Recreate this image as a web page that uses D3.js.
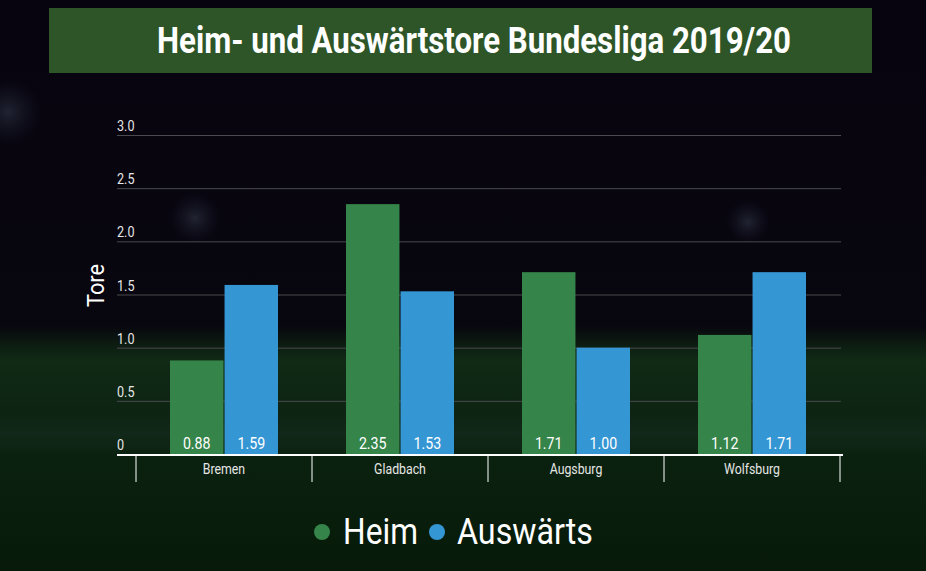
<!DOCTYPE html>
<html><head><meta charset="utf-8">
<script src="https://cdn.jsdelivr.net/npm/d3@7/dist/d3.min.js"></script>
<style>
html,body{margin:0;padding:0;background:#07040f;overflow:hidden;}
svg{display:block;font-family:Roboto,"Noto Sans",sans-serif;}
</style></head>
<body><svg id="c" width="926" height="571"></svg>
<script>
const title = "Heim- und Auswärtstore Bundesliga 2019/20";
const categories = ["Bremen","Gladbach","Augsburg","Wolfsburg"];
const seriesNames = ["Heim","Auswärts"];
const heim = [0.88, 2.35, 1.71, 1.12];
const auswaerts = [1.59, 1.53, 1.00, 1.71];
const yTicks = [0, 0.5, 1.0, 1.5, 2.0, 2.5, 3.0];
const yTickLabels = ["0","0.5","1.0","1.5","2.0","2.5","3.0"];
const yTitle = "Tore";
const colors = ["#35844a","#3596d4"];

const svg = d3.select("#c");
const W = 926, H = 571;

function condense(sel, f){
  sel.each(function(){
    const l = this.getComputedTextLength();
    d3.select(this).attr("textLength", l*f).attr("lengthAdjust","spacingAndGlyphs");
  });
}

// background
const defs = svg.append("defs");
const bg = defs.append("linearGradient").attr("id","bg").attr("x1",0).attr("y1",0).attr("x2",0).attr("y2",1);
[[0,"#07040f"],[0.57,"#08060f"],[0.6,"#0c1a10"],[0.63,"#102a16"],[0.72,"#0d2412"],[0.76,"#11281a"],[0.8,"#0b210f"],[1,"#071a09"]]
  .forEach(([o,c])=>bg.append("stop").attr("offset",o).attr("stop-color",c));
svg.append("rect").attr("width",W).attr("height",H).attr("fill","url(#bg)");
const glow = defs.append("radialGradient").attr("id","glow");
glow.append("stop").attr("offset",0).attr("stop-color","#33384a").attr("stop-opacity",0.6);
glow.append("stop").attr("offset",1).attr("stop-color","#1a1d30").attr("stop-opacity",0);
[[195,218,26],[748,222,22],[8,112,34]].forEach(([x,y,r])=>
  svg.append("circle").attr("cx",x).attr("cy",y).attr("r",r).attr("fill","url(#glow)"));

// title
svg.append("rect").attr("x",49).attr("y",8).attr("width",823).attr("height",65).attr("fill","#2d5527");
svg.append("text").attr("x",474).attr("y",53).attr("text-anchor","middle")
  .attr("fill","#ffffff").attr("font-size",36).attr("font-weight","bold").text(title)
  .attr("textLength",634).attr("lengthAdjust","spacingAndGlyphs");

// scales
const y = d3.scaleLinear().domain([0,3]).range([454,135]);
const x = d3.scaleBand().domain(categories).range([136,840]).paddingInner(0).paddingOuter(0);
const x1 = d3.scaleBand().domain(seriesNames).range([34, 142]).paddingInner(0.02);

// gridlines
const grid = svg.append("g").attr("transform","translate(117,0)")
  .call(d3.axisLeft(y).tickValues(yTicks.slice(1)).tickSize(-724).tickFormat(""));
grid.select(".domain").remove();
grid.selectAll("line").attr("stroke","#4a4a4f").attr("stroke-width",1);

// y tick labels
svg.append("g").selectAll("text").data(yTicks).join("text")
  .attr("x",117).attr("y",d=>y(d)-4).attr("fill","#e6e6e6").attr("font-size",15)
  .text((d,i)=>yTickLabels[i]).call(condense,0.84);

// y title
svg.append("text").attr("transform","translate(104,285.5) rotate(-90)").attr("text-anchor","middle")
  .attr("fill","#ffffff").attr("font-size",24).text(yTitle)
  .attr("textLength",43).attr("lengthAdjust","spacingAndGlyphs");

// bars
const data = categories.map((c,i)=>({c, vals:[heim[i],auswaerts[i]]}));
const groups = svg.append("g").selectAll("g").data(data).join("g")
  .attr("transform",d=>`translate(${x(d.c)},0)`);
groups.selectAll("rect").data(d=>d.vals.map((v,j)=>({v,s:seriesNames[j],j}))).join("rect")
  .attr("x",d=>x1(d.s)).attr("y",d=>y(d.v)).attr("width",x1.bandwidth())
  .attr("height",d=>y(0)-y(d.v)).attr("fill",d=>colors[d.j]);
groups.selectAll("text").data(d=>d.vals.map((v,j)=>({v,s:seriesNames[j],j}))).join("text")
  .attr("x",d=>x1(d.s)+x1.bandwidth()/2).attr("y",449).attr("text-anchor","middle")
  .attr("fill","#ffffff").attr("font-size",16.5).text(d=>d.v.toFixed(2)).call(condense,0.86);

// x axis
const xa = svg.append("g").attr("transform","translate(0,454)")
  .call(d3.axisBottom(x).tickSize(0).tickFormat(""));
xa.select(".domain").remove();
svg.append("line").attr("x1",117).attr("x2",843).attr("y1",455).attr("y2",455)
  .attr("stroke","#ffffff").attr("stroke-width",2);
const bounds = categories.map(c=>x(c)).concat([x.range()[1]]);
svg.append("g").selectAll("line").data(bounds).join("line")
  .attr("x1",d=>d).attr("x2",d=>d).attr("y1",455).attr("y2",482)
  .attr("stroke","#ffffff").attr("stroke-width",1);
svg.append("g").selectAll("text").data(categories).join("text")
  .attr("x",d=>x(d)+x.bandwidth()/2).attr("y",473.5).attr("text-anchor","middle")
  .attr("fill","#e6e6e6").attr("font-size",15).text(d=>d).call(condense,0.82);

// legend
const leg = [{n:"Heim",cx:322,tx:343,w:75},{n:"Auswärts",cx:437,tx:457,w:136}];
leg.forEach((d,i)=>{
  svg.append("circle").attr("cx",d.cx).attr("cy",532).attr("r",8).attr("fill",colors[i]);
  svg.append("text").attr("x",d.tx).attr("y",544).attr("fill","#ffffff").attr("font-size",36)
    .text(d.n).attr("textLength",d.w).attr("lengthAdjust","spacingAndGlyphs");
});
</script></body></html>
